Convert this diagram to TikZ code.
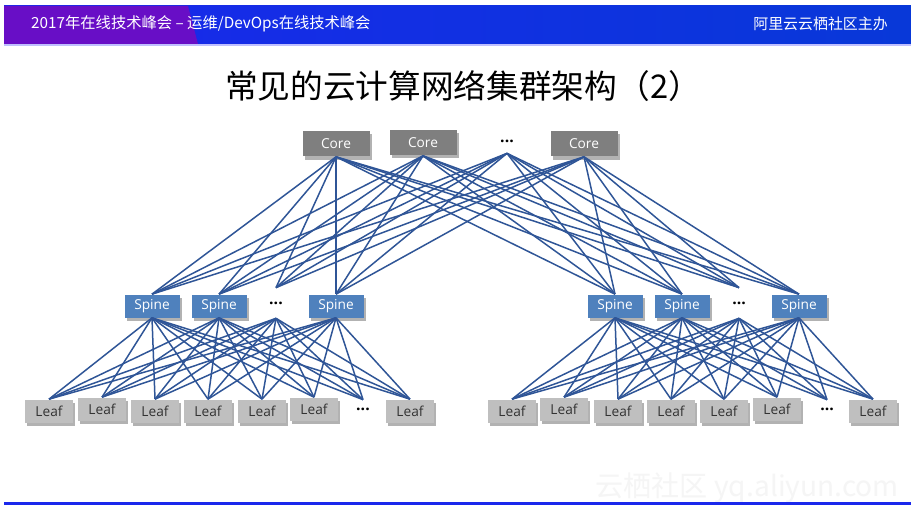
\documentclass[tikz,border=0pt]{standalone}
\usepackage{fontspec}
\setmainfont{Open Sans}
\newfontfamily\cjk{Noto Sans CJK SC}
\usetikzlibrary{shadows}

\definecolor{linkblue}{RGB}{47,85,151}
\definecolor{spineblue}{RGB}{79,129,189}
\definecolor{coregray}{RGB}{127,127,127}
\definecolor{leafgray}{RGB}{191,191,191}
\definecolor{barpurple}{RGB}{104,14,198}
\definecolor{barblue}{RGB}{26,40,236}
\definecolor{barblue2}{RGB}{8,56,216}

\tikzset{
  box/.style={inner sep=0pt, font=\fontsize{7.8}{9}\selectfont,
    drop shadow={shadow xshift=0.4mm, shadow yshift=-0.6mm, opacity=0.3, fill=black}},
  core/.style={box, fill=coregray, text=white, minimum width=13.4mm, minimum height=5mm},
  spine/.style={box, fill=spineblue, text=white, minimum width=11mm, minimum height=4.6mm},
  leaf/.style={box, fill=leafgray, text=black!80, minimum width=9.6mm, minimum height=4.6mm},
  dots/.style={inner sep=0pt, font=\bfseries\fontsize{9}{10}\selectfont},
  link/.style={linkblue, line width=0.85pt},
}

\begin{document}
\begin{tikzpicture}[x=0.2mm, y=-0.2mm]
  \useasboundingbox (0,0) rectangle (911,506);
  \fill[white] (0,0) rectangle (911,506);

  % Header bar
  \shade[left color=barblue, right color=barblue2] (4,6) rectangle (911,44);
  \fill[barpurple] (4,6) -- (188,6) -- (198,44) -- (4,44) -- cycle;
  \fill[blue!25] (4,44) rectangle (911,46);
  \node[anchor=west, text=white, font=\cjk\fontsize{8.7}{10}\selectfont] (event) at (25,24)
    {2017年在线技术峰会 – 运维/DevOps在线技术峰会};
  \node[anchor=east, text=white, font=\cjk\fontsize{8.5}{10}\selectfont] (host) at (894,24)
    {阿里云云栖社区主办};

  % Title
  \node[font=\cjk\fontsize{18.6}{22}\selectfont] (title) at (463,86) {常见的云计算网络集群架构（2）};

  % Core layer
  \node[core] (core1) at (336,144) {Core};
  \node[core] (core2) at (423,143) {Core};
  \node[dots, minimum height=4.8mm] (coredots) at (507,141) {...};
  \node[core] (core3) at (584,144) {Core};

  % Spine layer, left and right
  \node[spine] (lspine1) at (152,306) {Spine};
  \node[spine] (lspine2) at (219,306) {Spine};
  \node[dots, minimum height=6mm] (lspinedots) at (276,303) {...};
  \node[spine] (lspine3) at (336,306) {Spine};
  \node[spine] (rspine1) at (615,306) {Spine};
  \node[spine] (rspine2) at (682,306) {Spine};
  \node[dots, minimum height=6mm] (rspinedots) at (739,303) {...};
  \node[spine] (rspine3) at (799,306) {Spine};

  % Leaf layer, left and right
  \foreach \name/\x/\y in {lleaf1/49/411, lleaf2/102/409, lleaf3/155/411, lleaf4/208/411,
      lleaf5/262/411, lleaf6/314/409, lleaf7/410/411,
      rleaf1/512/411, rleaf2/564/409, rleaf3/618/411, rleaf4/671/411,
      rleaf5/724/411, rleaf6/777/409, rleaf7/873/411}
    \node[leaf] (\name) at (\x,\y) {Leaf};
  \node[dots, minimum height=3.6mm] (lleafdots) at (363,409) {...};
  \node[dots, minimum height=3.6mm] (rleafdots) at (827,409) {...};

  % Core to spine links
  \foreach \c in {core1,core2,coredots,core3}
    \foreach \s in {lspine1,lspine2,lspinedots,lspine3,rspine1,rspine2,rspinedots,rspine3}
      \draw[link] (\c.south) -- (\s.north);

  % Spine to leaf links
  \foreach \side in {l,r}
    \foreach \s in {spine1,spine2,spinedots,spine3}
      \foreach \l in {leaf1,leaf2,leaf3,leaf4,leaf5,leaf6,leafdots,leaf7}
        \draw[link] (\side\s.south) -- (\side\l.north);

  % Footer
  \node[anchor=east, text=gray!8, font=\cjk\fontsize{16}{18}\selectfont] (mark) at (905,488)
    {云栖社区 yq.aliyun.com};
  \fill[barblue] (4,502) rectangle (911,505);
\end{tikzpicture}
\end{document}
